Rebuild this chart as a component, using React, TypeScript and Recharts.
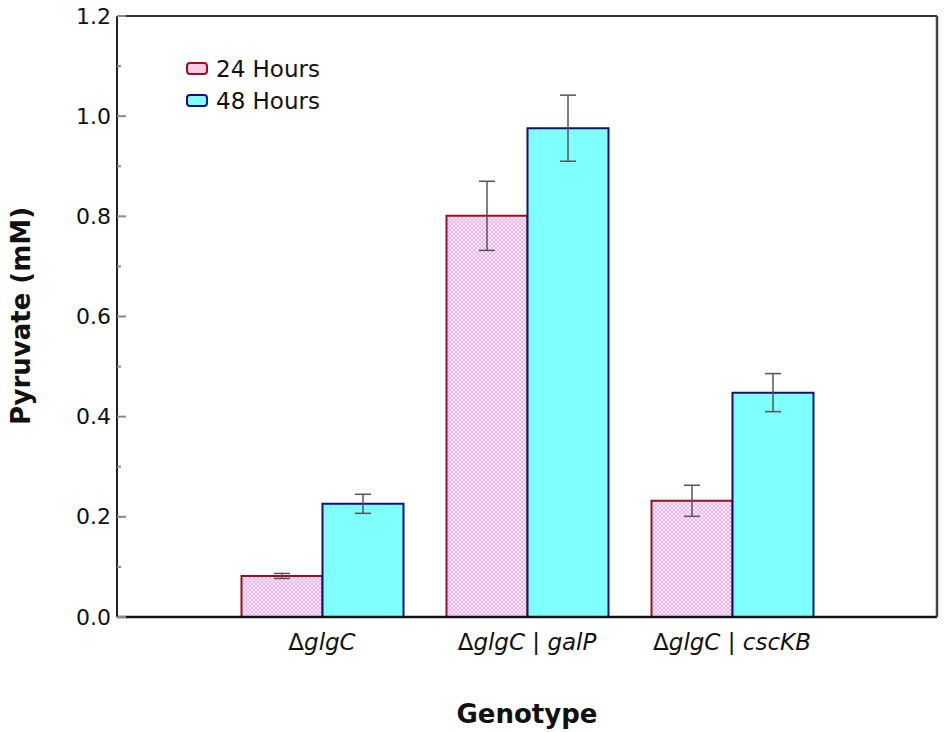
import { Bar, BarChart, ErrorBar, Label, Legend, ReferenceLine, XAxis, YAxis } from "recharts";

const genotypes = ["glgC", "glgC | galP", "glgC | cscKB"];
const hours24 = [0.082, 0.801, 0.232];
const hours24Err = [0.005, 0.069, 0.031];
const hours48 = [0.226, 0.976, 0.448];
const hours48Err = [0.019, 0.066, 0.038];
const yTicks = [0, 0.1, 0.2, 0.3, 0.4, 0.5, 0.6, 0.7, 0.8, 0.9, 1.0, 1.1, 1.2];

const data = genotypes.map((g, i) => ({
  genotype: g,
  h24: hours24[i],
  h24Err: hours24Err[i],
  h48: hours48[i],
  h48Err: hours48Err[i],
}));

const FONT = "'DejaVu Sans', Verdana, sans-serif";

const isMajor = (v: number) => Math.round(v * 10) % 2 === 0;

const LeftTick = ({ x, y, payload }: any) => {
  const major = isMajor(payload.value);
  return (
    <g>
      <line x1={x} x2={x + (major ? 9 : 4)} y1={y} y2={y} stroke="#8a8a8a" strokeWidth={2} />
      {major && (
        <text x={x - 6} y={y} textAnchor="end" dominantBaseline="central" fontSize={22} fontFamily={FONT} fill="#111">
          {payload.value.toFixed(1)}
        </text>
      )}
    </g>
  );
};

const RightTick = ({ x, y, payload }: any) => {
  const major = isMajor(payload.value);
  return <line x1={x} x2={x - (major ? 9 : 4)} y1={y} y2={y} stroke="#8a8a8a" strokeWidth={2} />;
};

const GenotypeTick = ({ x, y, payload }: any) => (
  <text x={x} y={y + 33} textAnchor="middle" fontSize={23} fontFamily={FONT} fill="#111">
    <tspan>Δ</tspan>
    <tspan fontStyle="italic">{payload.value}</tspan>
  </text>
);

const LegendBox = () => (
  <div style={{ fontFamily: FONT, fontSize: 23, color: "#111", lineHeight: "32px" }}>
    {[
      { name: "24 Hours", fill: "#f6cde6", stroke: "#9e1020" },
      { name: "48 Hours", fill: "#80ffff", stroke: "#10107a" },
    ].map((item) => (
      <div key={item.name} style={{ display: "flex", alignItems: "center", height: 32 }}>
        <svg width={24} height={14} style={{ marginRight: 6 }}>
          <rect x={1} y={1} width={20} height={11} rx={3} fill={item.fill} stroke={item.stroke} strokeWidth={2} />
        </svg>
        <span>{item.name}</span>
      </div>
    ))}
  </div>
);

export default function App() {
  return (
    <div style={{ margin: "-8px 0 0 -8px", width: 950, height: 732 }}>
      <BarChart width={950} height={732} data={data} margin={{ top: 16, right: 12, left: 0, bottom: 0 }} barGap={0}>
        <defs>
          <pattern id="hatch" width={4} height={4} patternUnits="userSpaceOnUse">
            <rect width={4} height={4} fill="#fce8fb" />
            <path d="M0,0 L4,4 M4,0 L0,4" stroke="#eab0e9" strokeWidth={0.9} />
          </pattern>
        </defs>
        <XAxis
          dataKey="genotype"
          height={115}
          padding={{ left: 102.5, right: 102.5 }}
          tickLine={false}
          tickSize={0}
          tickMargin={0}
          axisLine={{ stroke: "#111", strokeWidth: 2.5 }}
          tick={<GenotypeTick />}
          interval={0}
        >
          <Label
            content={() => (
              <text x={527} y={723} textAnchor="middle" fontSize={26} fontWeight="bold" fontFamily={FONT} fill="#111">
                Genotype
              </text>
            )}
          />
        </XAxis>
        <YAxis
          yAxisId="left"
          width={117}
          domain={[0, 1.2]}
          ticks={yTicks}
          interval={0}
          tickLine={false}
          tickSize={0}
          tickMargin={0}
          axisLine={{ stroke: "#222", strokeWidth: 2 }}
          tick={<LeftTick />}
        >
          <Label
            content={() => (
              <text
                x={21}
                y={316}
                transform="rotate(-90 21 316)"
                textAnchor="middle"
                dominantBaseline="central"
                fontSize={26}
                fontWeight="bold"
                fontFamily={FONT}
                fill="#111"
              >
                Pyruvate (mM)
              </text>
            )}
          />
        </YAxis>
        <YAxis
          yAxisId="right"
          orientation="right"
          width={1}
          domain={[0, 1.2]}
          ticks={yTicks}
          interval={0}
          tickLine={false}
          tickSize={0}
          tickMargin={0}
          axisLine={{ stroke: "#444", strokeWidth: 2.5 }}
          tick={<RightTick />}
        />
        <ReferenceLine yAxisId="left" y={1.2} stroke="#333" strokeWidth={2} />
        <Legend
          layout="vertical"
          align="center"
          verticalAlign="middle"
          content={<LegendBox />}
          wrapperStyle={{ left: 186, top: 53, width: 200 }}
        />
        <Bar yAxisId="left" dataKey="h24" name="24 Hours" barSize={81} fill="url(#hatch)" stroke="#9e1020" strokeWidth={2} isAnimationActive={false}>
          <ErrorBar dataKey="h24Err" width={8} stroke="#555" strokeWidth={1.5} />
        </Bar>
        <Bar yAxisId="left" dataKey="h48" name="48 Hours" barSize={81} fill="#80ffff" stroke="#10107a" strokeWidth={2} isAnimationActive={false}>
          <ErrorBar dataKey="h48Err" width={8} stroke="#555" strokeWidth={1.5} />
        </Bar>
      </BarChart>
    </div>
  );
}
